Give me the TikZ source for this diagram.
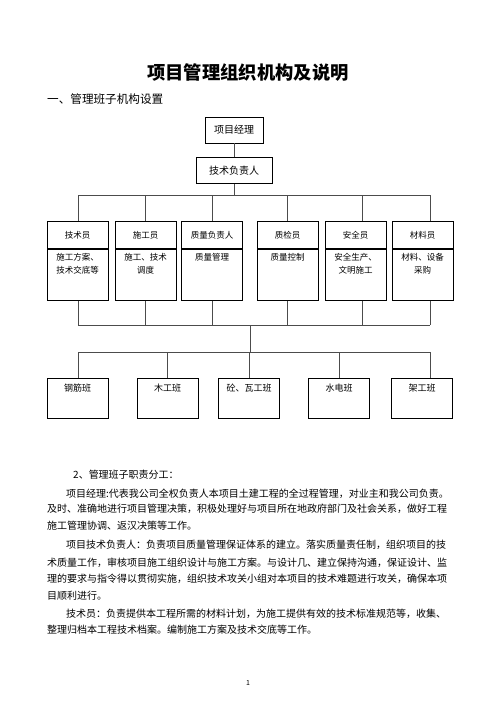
\documentclass[tikz,border=0pt]{standalone}
\usepackage{fontspec}
\newfontfamily\cjk{Noto Sans CJK SC}
\usetikzlibrary{positioning, calc}

\tikzset{
  boss/.style={draw, line width=0.8pt, minimum width=58pt, minimum height=26pt, inner sep=0pt, font=\cjk\fontsize{10}{12}\selectfont},
  rolehd/.style={draw, line width=0.8pt, minimum width=61pt, minimum height=27pt, anchor=north, inner sep=0pt, font=\cjk\fontsize{8.5}{10}\selectfont},
  rolebd/.style={draw, line width=0.8pt, minimum width=61pt, minimum height=51pt, anchor=north, inner sep=0pt},
  roletx/.style={anchor=north, align=center, inner sep=0pt, font=\cjk\fontsize{8.5}{13}\selectfont},
  crew/.style={draw, line width=0.8pt, minimum width=61pt, minimum height=40pt, anchor=north, inner sep=0pt},
  crewtx/.style={anchor=north, inner sep=0pt, font=\cjk\fontsize{9}{11}\selectfont},
  link/.style={draw=black!70, line width=0.7pt},
  txtline/.style={anchor=base west, inner sep=0pt, font=\cjk\fontsize{10}{12}\selectfont},
}

\begin{document}
\begin{tikzpicture}[x=1pt, y=-1pt]
  % page area
  \useasboundingbox[fill=white] (0,0) rectangle (496,702);

  % headings
  \node[inner sep=0pt, font=\cjk\bfseries\fontsize{18.3}{20}\selectfont] (title) at (248,73) {项目管理组织机构及说明};
  \node[inner sep=0pt, anchor=west, font=\cjk\fontsize{11.6}{13}\selectfont] (sec1) at (47,99) {一、管理班子机构设置};

  % top of the chart
  \node[boss] (pm) at (234,130) {项目经理};
  \node[boss, minimum width=76pt, below=14pt of pm] (lead) {技术负责人};
  \draw[link] (pm) -- (lead);

  % staff boxes: header and duties
  \foreach \n/\x/\lx/\hd/\bd in {1/77.5/78/技术员/{施工方案、\\技术交底等},
                                2/145.5/145/施工员/{施工、技术\\调度},
                                3/212/212/质量负责人/质量管理,
                                4/287.5/287/质检员/质量控制,
                                5/355.5/362/安全员/{安全生产、\\文明施工},
                                6/422.5/430/材料员/{材料、设备\\采购}} {
    \node[rolehd] (h\n) at (\x,221) {\hd};
    \node[rolebd] (b\n) at (h\n.south) {};
    \node[roletx] (t\n) at ([yshift=-4.5pt]b\n.north) {\bd};
    \coordinate (u\n) at (\lx,195);
    \coordinate (d\n) at (\lx,325);
    \draw[link] (u\n) -- (u\n |- h\n.north);
    \draw[link] (d\n |- b\n.south) -- (d\n);
  }
  \draw[link] (lead) -- (lead |- u1);
  \draw[link] (u1) -- (u6);
  \draw[link] (d1) -- (d6);

  % work crews
  \coordinate (mid) at (250,352);
  \draw[link] (mid |- d1) -- (mid);
  \foreach \n/\x/\lx/\nm in {1/77.5/78/钢筋班, 2/167.5/167/木工班, 3/249/249/砼、瓦工班,
                             4/339/339/水电班, 5/422/430/架工班} {
    \node[crew] (c\n) at (\x,378) {};
    \node[crewtx] (ct\n) at ([yshift=-5.5pt]c\n.north) {\nm};
    \coordinate (v\n) at (\lx,352);
    \draw[link] (v\n) -- (v\n |- c\n.north);
  }
  \draw[link] (v1) -- (v5);

  % duties text
  \node[txtline] (s2) at (73,478) {2、管理班子职责分工：};
  \node[txtline] (p1a) at (66,497) {项目经理:代表我公司全权负责人本项目土建工程的全过程管理，对业主和我公司负责。};
  \node[txtline] (p1b) at (47,512) {及时、准确地进行项目管理决策，积极处理好与项目所在地政府部门及社会关系，做好工程};
  \node[txtline] (p1c) at (47,529) {施工管理协调、返汉决策等工作。};
  \node[txtline] (p2a) at (66,548) {项目技术负责人：负责项目质量管理保证体系的建立。落实质量责任制，组织项目的技};
  \node[txtline] (p2b) at (47,566) {术质量工作，审核项目施工组织设计与施工方案。与设计几、建立保持沟通，保证设计、监};
  \node[txtline] (p2c) at (47,582) {理的要求与指令得以贯彻实施，组织技术攻关小组对本项目的技术难题进行攻关，确保本项};
  \node[txtline] (p2d) at (47,599) {目顺利进行。};
  \node[txtline] (p3a) at (66,617) {技术员：负责提供本工程所需的材料计划，为施工提供有效的技术标准规范等，收集、};
  \node[txtline] (p3b) at (47,633) {整理归档本工程技术档案。编制施工方案及技术交底等工作。};

  % page number
  \node[inner sep=0pt, font=\cjk\fontsize{7}{8}\selectfont] (pg) at (248,683) {1};
\end{tikzpicture}
\end{document}
